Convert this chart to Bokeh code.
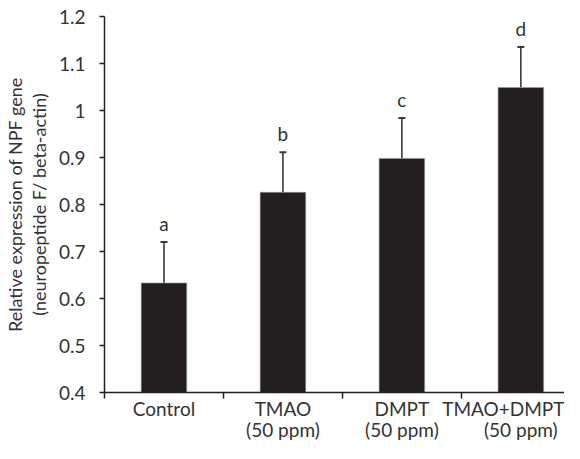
from bokeh.plotting import figure
from bokeh.models import (ColumnDataSource, FixedTicker, NumeralTickFormatter,
                          Range1d, Whisker, TeeHead, LinearAxis)
from bokeh.core.properties import value
from bokeh.embed import file_html
from bokeh.resources import INLINE

categories = ["Control", "TMAO", "DMPT", "TMAO+DMPT"]
doses = ["", "(50 ppm)", "(50 ppm)", "(50 ppm)"]
means = [0.633, 0.826, 0.898, 1.049]
errors = [0.087, 0.085, 0.086, 0.086]
letters = ["a", "b", "c", "d"]
y_ticks = [0.4, 0.5, 0.6, 0.7, 0.8, 0.9, 1.0, 1.1, 1.2]

FONT = "Lato"
INK = "#231f20"
TXT = "#333333"

xs = list(range(len(categories)))
src = ColumnDataSource(dict(
    x=xs, top=means,
    upper=[m + e for m, e in zip(means, errors)],
    lab=letters,
))

p = figure(width=564, height=443, output_backend="svg", toolbar_location=None,
           x_range=Range1d(-0.5, 3.367), y_range=Range1d(y_ticks[0], y_ticks[-1]),
           x_axis_location=None, y_axis_location=None,
           min_border_left=100, min_border_right=0, min_border_top=16,
           min_border_bottom=49)
p.outline_line_color = None
p.xgrid.visible = False
p.ygrid.visible = False
p.background_fill_color = "white"
p.border_fill_color = "white"

p.vbar(x="x", top="top", bottom=y_ticks[0], width=0.383, source=src,
       fill_color=INK, line_color="#9a9a9a", line_width=0.6)

w = Whisker(base="x", upper="upper", lower="top", source=src,
            line_color="#3a3a3a", line_width=1.6,
            upper_head=TeeHead(size=7, line_color="#3a3a3a", line_width=2),
            lower_head=None)
p.add_layout(w)

p.text(x="x", y="upper", text="lab", source=src, y_offset=-7,
       text_align="center", text_baseline="bottom",
       text_font=value(FONT), text_font_size="19px", text_color=TXT)

# y axis
yax = LinearAxis(ticker=FixedTicker(ticks=y_ticks),
                 formatter=NumeralTickFormatter(format="0.[0]"))
yax.axis_line_color = INK
yax.axis_line_width = 1.5
yax.major_tick_line_color = INK
yax.major_tick_line_width = 1.5
yax.major_tick_in = 0
yax.major_tick_out = 5
yax.minor_tick_line_color = None
yax.major_label_standoff = 14
yax.major_label_text_font = FONT
yax.major_label_text_font_size = "19px"
yax.major_label_text_color = TXT
yax.axis_label = "Relative expression of NPF gene\n(neuropeptide F/ beta-actin)"
yax.axis_label_text_font = FONT
yax.axis_label_text_font_size = "18px"
yax.axis_label_text_font_style = "normal"
yax.axis_label_text_color = TXT
yax.axis_label_text_line_height = 1.1
yax.axis_label_standoff = 6
p.add_layout(yax, "left")

# x axis: boundary ticks as minor ticks, labels at centres
xax = LinearAxis(ticker=FixedTicker(ticks=xs, minor_ticks=[-0.5, 0.5, 1.5, 2.5, 3.5]))
xax.major_label_overrides = {i: c for i, c in zip(xs, categories)}
xax.axis_line_color = INK
xax.axis_line_width = 1.5
xax.major_tick_line_color = None
xax.major_tick_in = 0
xax.major_tick_out = 0
xax.minor_tick_line_color = INK
xax.minor_tick_line_width = 1.5
xax.minor_tick_in = 0
xax.minor_tick_out = 6
xax.major_label_standoff = -2
xax.major_label_text_font = FONT
xax.major_label_text_font_size = "19px"
xax.major_label_text_line_height = 1.0
xax.major_label_text_color = TXT
p.add_layout(xax, "below")

# second line of the category labels
xax2 = LinearAxis(ticker=FixedTicker(ticks=xs, minor_ticks=[]))
xax2.major_label_overrides = {i: d if d else " " for i, d in zip(xs, doses)}
xax2.axis_line_color = None
xax2.major_tick_line_color = None
xax2.major_tick_in = 0
xax2.major_tick_out = 0
xax2.minor_tick_line_color = None
xax2.major_label_standoff = -5
xax2.major_label_text_font = FONT
xax2.major_label_text_font_size = "19px"
xax2.major_label_text_line_height = 1.0
xax2.major_label_text_color = TXT
p.add_layout(xax2, "below")

open("out.html", "w").write(file_html(p, INLINE))
